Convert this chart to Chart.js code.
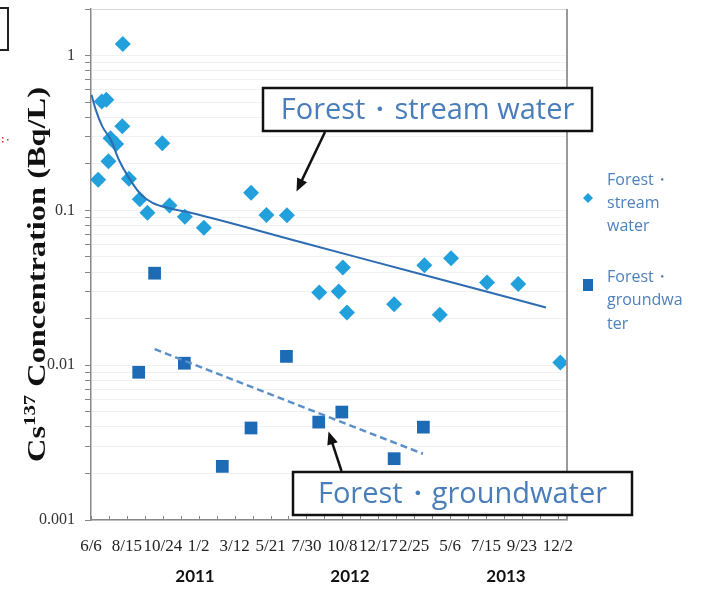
<!DOCTYPE html>
<html><head><meta charset="utf-8">
<script src="https://cdn.jsdelivr.net/npm/chart.js@4/dist/chart.umd.min.js"></script>
<style>html,body{margin:0;padding:0;background:#fff}#wrap{width:704px;height:590px;position:relative}canvas{display:block}</style>
</head><body><div id="wrap"><canvas id="c" width="704" height="590"></canvas></div>
<script>
// x values: days since 6/6/2011
const streamDays   = [14, 21, 30, 34, 38, 49, 61, 62, 74, 95, 110, 139, 153, 183, 220, 312, 342, 382, 445, 483, 491, 499, 591, 650, 680, 702, 772, 833, 915];
const streamValues = [0.158, 0.506, 0.519, 0.208, 0.293, 0.268, 0.349, 1.19, 0.160, 0.118, 0.0966, 0.272, 0.1077, 0.091, 0.0773, 0.130, 0.0933, 0.0929, 0.0295, 0.0299, 0.0427, 0.0219, 0.0248, 0.0442, 0.0212, 0.0491, 0.0342, 0.0334, 0.0104];
const groundDays   = [93, 124, 182, 256, 312, 381, 444, 489, 591, 648];
const groundValues = [0.0090, 0.0393, 0.0103, 0.00222, 0.00393, 0.0114, 0.00429, 0.00498, 0.00249, 0.00398];
const streamTrendDays   = [1, 9, 22, 38, 55, 73, 97, 120, 151, 194, 408, 642, 887];
const streamTrendValues = [0.558, 0.449, 0.349, 0.288, 0.21, 0.164, 0.127, 0.112, 0.1035, 0.0965, 0.0625, 0.0388, 0.0236];
const groundTrendDays   = [124, 647];
const groundTrendValues = [0.0127, 0.00268];
const xTickLabels = ['6/6','8/15','10/24','1/2','3/12','5/21','7/30','10/8','12/17','2/25','5/6','7/15','9/23','12/2'];
const yearLabels  = ['2011','2012','2013'];
const yMajorValues = [0.001, 0.01, 0.1, 1];
const yTickLabels  = ['0.001','0.01','0.1','1'];
const seriesNames = ['Forest・stream water', 'Forest・groundwater'];
const legendLines = [['Forest・','stream','water'], ['Forest・','groundwa','ter']];

const zip = (a, b) => a.map((v, i) => ({x: v, y: b[i]}));

function arrow(ctx, x1, y1, x2, y2) {
  const a = Math.atan2(y2 - y1, x2 - x1), L = 13, W = 5.5;
  ctx.beginPath(); ctx.moveTo(x1, y1);
  ctx.lineTo(x2 - Math.cos(a) * L * 0.8, y2 - Math.sin(a) * L * 0.8); ctx.stroke();
  ctx.beginPath(); ctx.moveTo(x2, y2);
  ctx.lineTo(x2 - L * Math.cos(a) + W * Math.sin(a), y2 - L * Math.sin(a) - W * Math.cos(a));
  ctx.lineTo(x2 - L * Math.cos(a) - W * Math.sin(a), y2 - L * Math.sin(a) + W * Math.cos(a));
  ctx.closePath(); ctx.fill();
}

const deco = {
  id: 'deco',
  afterDraw(chart) {
    const ctx = chart.ctx, a = chart.chartArea, xs = chart.scales.x;
    ctx.save();
    // plot border top/right
    ctx.strokeStyle = '#d4d4d4'; ctx.lineWidth = 1;
    ctx.beginPath(); ctx.moveTo(a.left, a.top + 0.5); ctx.lineTo(a.right, a.top + 0.5); ctx.stroke();
    ctx.strokeStyle = '#9a9a9a'; ctx.lineWidth = 2;
    ctx.beginPath(); ctx.moveTo(a.right, a.top); ctx.lineTo(a.right, a.bottom); ctx.stroke();
    // inward x ticks
    ctx.strokeStyle = '#888'; ctx.lineWidth = 1;
    xs.ticks.forEach(t => {
      const px = Math.round(xs.getPixelForValue(t.value)) + 0.5;
      ctx.beginPath(); ctx.moveTo(px, a.bottom); ctx.lineTo(px, a.bottom - 4); ctx.stroke();
    });
    // year labels
    ctx.fillStyle = '#111'; ctx.font = 'bold 17px Lato'; ctx.textAlign = 'center'; ctx.textBaseline = 'middle';
    [195, 350, 506].forEach((x, i) => ctx.fillText(yearLabels[i], x, 577));
    // y title
    ctx.save();
    ctx.translate(45, 462); ctx.rotate(-Math.PI / 2);
    ctx.fillStyle = '#111'; ctx.textAlign = 'left'; ctx.textBaseline = 'alphabetic';
    const f1 = 'bold 25px "Liberation Serif"', f2 = 'bold 16px "Liberation Serif"';
    ctx.font = f1; const wCs = ctx.measureText('Cs').width; const rest = ' Concentration (Bq/L)'; const wR = ctx.measureText(rest).width;
    ctx.font = f2; const w137 = ctx.measureText('137').width;
    const sx = 375 / (wCs + w137 + wR);
    ctx.scale(sx, 1);
    ctx.font = f1; ctx.fillText('Cs', 0, 0);
    ctx.font = f2; ctx.fillText('137', wCs, -10);
    ctx.font = f1; ctx.fillText(rest, wCs + w137, 0);
    ctx.restore();
    // legend
    ctx.fillStyle = '#22a0dc';
    ctx.beginPath(); ctx.moveTo(583, 198); ctx.lineTo(588, 193); ctx.lineTo(593, 198); ctx.lineTo(588, 203); ctx.closePath(); ctx.fill();
    ctx.fillStyle = '#1c6bb4'; ctx.fillRect(583, 279, 10, 12);
    ctx.fillStyle = '#4f81bd'; ctx.font = '16px "Open Sans"'; ctx.textAlign = 'left'; ctx.textBaseline = 'middle';
    legendLines[0].forEach((s, i) => ctx.fillText(s, 607, 180 + i * 23));
    legendLines[1].forEach((s, i) => ctx.fillText(s, 607, 277 + i * 23.5));
    // annotation boxes
    ctx.lineWidth = 2.5; ctx.strokeStyle = '#111'; ctx.fillStyle = '#111';
    arrow(ctx, 325, 132, 296.5, 191.5);
    arrow(ctx, 341.5, 471, 328.5, 431.5);
    [[263, 88, 329, 43, 0], [293, 472, 339, 43, 1]].forEach(([x, y, w, h, k]) => {
      ctx.fillStyle = '#fff'; ctx.fillRect(x, y, w, h);
      ctx.strokeStyle = '#111'; ctx.strokeRect(x, y, w, h);
      ctx.fillStyle = '#4a7ebb'; ctx.font = '29px "Open Sans"'; ctx.textAlign = 'center'; ctx.textBaseline = 'middle';
      ctx.fillText(seriesNames[k], x + w / 2, y + h / 2 + 1);
    });
    // partial box top-left and red marks (cropped remnants)
    ctx.strokeStyle = '#222'; ctx.lineWidth = 2; ctx.strokeRect(-5, 8, 13, 42);
    ctx.fillStyle = '#c0392b';
    [[2, 137], [2, 141], [7, 139]].forEach(([x, y]) => ctx.fillRect(x, y, 1.5, 1.5));
    ctx.restore();
  }
};

new Chart(document.getElementById('c'), {
  type: 'scatter',
  data: {
    datasets: [
      {data: zip(streamTrendDays, streamTrendValues), showLine: true, borderColor: '#2d6cb3', borderWidth: 2, pointRadius: 0, cubicInterpolationMode: 'monotone', fill: false},
      {data: zip(groundTrendDays, groundTrendValues), showLine: true, borderColor: '#5b8fc9', borderWidth: 2.5, borderDash: [7, 4], pointRadius: 0, fill: false},
      {label: seriesNames[0], data: zip(streamDays, streamValues), pointStyle: 'rectRot', pointRadius: 8, backgroundColor: '#22a0dc', borderWidth: 0},
      {label: seriesNames[1], data: zip(groundDays, groundValues), pointStyle: 'rect', pointRadius: 9, backgroundColor: '#1c6bb4', borderWidth: 0}
    ]
  },
  options: {
    responsive: false, animation: false, devicePixelRatio: 1,
    layout: {padding: {left: 0, right: 137, top: 7, bottom: 0}},
    plugins: {legend: {display: false}, tooltip: {enabled: false}},
    scales: {
      x: {
        type: 'linear', min: 0, max: 928,
        afterFit(s) { s.height = 70; s.paddingLeft = 0; s.paddingRight = 0; },
        afterBuildTicks(s) { const t = []; for (let d = 0; d <= 910; d += 35) t.push({value: d}); s.ticks = t; },
        ticks: {autoSkip: false, maxRotation: 0, minRotation: 0, padding: 16, color: '#222', font: {family: 'Liberation Serif', size: 17},
          callback(v) { return v % 70 === 0 ? xTickLabels[v / 70] : ''; }},
        grid: {drawOnChartArea: false, drawTicks: false},
        border: {color: '#888', width: 1.5}
      },
      y: {
        type: 'logarithmic', min: 0.001, max: 2,
        afterFit(s) { s.width = 91; s.paddingTop = 0; s.paddingBottom = 0; },
        afterBuildTicks(s) { const t = []; for (let e = -3; e <= 0; e++) for (let m = 1; m <= 9; m++) { const v = m * Math.pow(10, e); if (v <= 2.0001) t.push({value: v}); } s.ticks = t; },
        ticks: {autoSkip: false, padding: 10, color: '#333', font: {family: 'Liberation Serif', size: 16},
          callback(v) { const i = yMajorValues.findIndex(m => Math.abs(m - v) / m < 1e-6); return i >= 0 ? yTickLabels[i] : ''; }},
        grid: {color: '#f1f1f1', tickColor: '#888', tickLength: 6},
        border: {color: '#888', width: 1.5}
      }
    }
  },
  plugins: [deco]
});
</script></body></html>
